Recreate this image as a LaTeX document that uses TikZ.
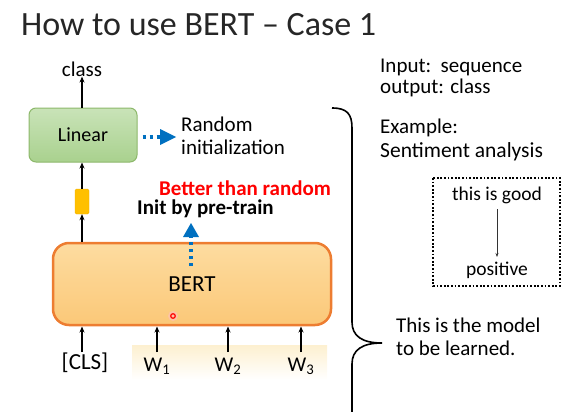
\documentclass[tikz,border=0pt]{standalone}
\usepackage{fontspec}
\setmainfont{Carlito}
\usetikzlibrary{arrows.meta}
\definecolor{blueA}{HTML}{0070C0}
\definecolor{orangeB}{HTML}{ED7D31}
\definecolor{greenB}{HTML}{8DB86B}
\definecolor{greenT}{HTML}{C9E3B8}
\definecolor{greenL}{HTML}{A9D18E}
\definecolor{bertT}{HTML}{FDDCA0}
\definecolor{bertL}{HTML}{FBC878}
\definecolor{vecF}{HTML}{FFC000}
\definecolor{vecD}{HTML}{F0B000}
\definecolor{bandT}{HTML}{FDF0D0}
\tikzset{
  txt/.style={font=\fontsize{21}{24}\selectfont, inner sep=0pt},
  blk/.style={-{Stealth[length=6pt,width=5pt]}, line width=1.3pt, black},
  bluedot/.style={blueA, line width=3.5pt, dash pattern=on 3.5pt off 3.5pt},
  bluehead/.style={blueA, fill=blueA},
}
\begin{document}
\begin{tikzpicture}[x=1pt,y=-1pt]
\useasboundingbox (0,0) rectangle (581,412);
% title
\node[anchor=west, inner sep=0pt, font=\fontsize{34}{38}\selectfont, text=black!85] (title) at (21,25) {How to use BERT – Case 1};
% linear box
\node[draw=greenB, line width=1pt, rounded corners=7pt, top color=greenT, bottom color=greenL, minimum width=108pt, minimum height=54pt, txt, font=\fontsize{20}{24}\selectfont] (lin) at (83,135) {Linear};
\node[txt] (cls) at (82,69) {class};
\draw[blk] (lin.north -| cls) -- (cls.south);
% yellow vector
\node[draw=vecD, fill=vecF, rounded corners=1.5pt, minimum width=14pt, minimum height=25pt, inner sep=0pt] (vec) at (82,201.5) {};
\draw[blk] (vec.north) -- (vec.north |- lin.south);
% BERT
\node[draw=orangeB, line width=2.5pt, rounded corners=16pt, top color=bertT, bottom color=bertL, minimum width=278pt, minimum height=82pt, txt, font=\fontsize{23}{26}\selectfont] (bert) at (192,284) {BERT};
\draw[blk] (vec.south |- bert.north) -- (vec.south);
% random init arrow
\coordinate (rtip) at (176,137);
\draw[bluedot] ([xshift=5pt]lin.east |- rtip) -- (160,137);
\fill[bluehead] (rtip) -- (160,129) -- (160,145) -- cycle;
\node[txt, anchor=west, align=left, font=\fontsize{21}{23}\selectfont] (rand) at (181,136) {Random\\initialization};
% pre-train arrow
\node[txt, text=red, font=\bfseries\fontsize{21}{22}\selectfont, anchor=west] (better) at (159,188) {Better than random};
\node[txt, font=\bfseries\fontsize{21}{22}\selectfont, anchor=west] (init) at (137,209) {Init by pre-train};
\coordinate (ptip) at (191,223);
\draw[bluedot] (191,266) -- (191,237);
\fill[bluehead] (ptip) -- (183,237) -- (199,237) -- cycle;
% pointer
\fill[red!25, opacity=0.6] (173,316) circle (5pt);
\draw[red, line width=1.2pt] (173,316) circle (2.3pt);
% inputs
\fill[top color=bandT, bottom color=white] (132,345) rectangle (327,380);
\node[txt, font=\fontsize{23}{26}\selectfont] (tcls) at (85,363) {[CLS]};
\node[txt, font=\fontsize{21}{24}\selectfont] (w1) at (157,366) {W\textsubscript{1}};
\node[txt, font=\fontsize{21}{24}\selectfont] (w2) at (228,366) {W\textsubscript{2}};
\node[txt, font=\fontsize{21}{24}\selectfont] (w3) at (301,366) {W\textsubscript{3}};
\draw[blk] (82,352) -- (82,326.5);
\draw[blk] (157,352) -- (157,326.5);
\draw[blk] (228,352) -- (228,326.5);
\draw[blk] (301,352) -- (301,326.5);
% brace
\draw[line width=1.6pt] (332,108) .. controls (347,108) and (352,114) .. (352,128) -- (352,322) .. controls (352,336) and (362,343) .. (382,343) .. controls (362,343) and (352,350) .. (352,364) -- (352,412);
% right texts
\node[txt, anchor=west] (inp) at (380,67) {Input:\ \ sequence};
\node[txt, anchor=west] (outp) at (380,88) {output: class};
\node[txt, anchor=west] (ex) at (380,128) {Example:};
\node[txt, anchor=west, font=\fontsize{21.5}{24}\selectfont] (sent) at (380,152) {Sentiment analysis};
\draw[line width=1.8pt, dash pattern=on 1.8pt off 1.8pt] (433,178) rectangle (560,286);
\node[txt, font=\fontsize{19.5}{22}\selectfont] (good) at (497,195) {this is good};
\node[txt, font=\fontsize{19.5}{22}\selectfont] (pos) at (497,270) {positive};
\draw[-{Stealth[length=4pt,width=3pt]}, line width=0.8pt, black!80] (497,209) -- (497,257);
\node[txt, anchor=west] (m1) at (396,325) {This is the model};
\node[txt, anchor=west] (m2) at (396,348) {to be learned.};
\end{tikzpicture}
\end{document}
